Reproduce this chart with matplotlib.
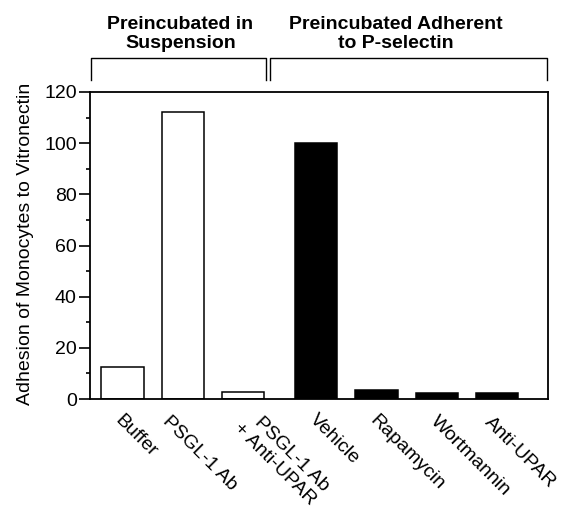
import matplotlib
matplotlib.use("Agg")
import matplotlib.pyplot as plt
import matplotlib.transforms as mtrans
from matplotlib.ticker import MultipleLocator

categories = ["Buffer", "PSGL-1 Ab", "PSGL-1 Ab\n+ Anti-UPAR", "Vehicle",
              "Rapamycin", "Wortmannin", "Anti-UPAR"]
values = [12.5, 112, 2.8, 100, 3.4, 2.3, 2.3]
colors = ["white", "white", "white", "black", "black", "black", "black"]
positions = [0, 1, 2, 3.22, 4.22, 5.22, 6.22]
group_labels = ["Preincubated in\nSuspension", "Preincubated Adherent\nto P-selectin"]

# per-label placement offsets (pixels) for the rotated category labels
label_dx = [1.0, -11.4, 12.3, 2.1, 1.6, 2.6, -3.4]
label_dy = [12.4, 13.4, 7.6, 11.4, 13.4, 13.4, 14.9]

plt.rcParams['font.family'] = ['Liberation Sans', 'DejaVu Sans']

DPI = 100
fig = plt.figure(figsize=(5.64, 5.08), dpi=DPI)
ax = fig.add_axes([90/564, 109/508, 458/564, 307/508])

ax.bar(positions, values, width=0.7, color=colors, edgecolor="black", linewidth=1.1)

ax.set_xlim(-0.54, 7.07)
ax.set_ylim(0, 120)
ax.yaxis.set_major_locator(MultipleLocator(20))
ax.yaxis.set_minor_locator(MultipleLocator(10))
ax.tick_params(axis='y', which='major', direction='out', length=8, width=1.2,
               labelsize=14, pad=1.5)
ax.tick_params(axis='y', which='minor', direction='out', length=3, width=1.2)
ax.set_xticks([])
for s in ax.spines.values():
    s.set_linewidth(1.3)

blend = mtrans.blended_transform_factory(ax.transData, ax.transAxes)
for pos, lab, dx, dy in zip(positions, categories, label_dx, label_dy):
    off = mtrans.ScaledTranslation(dx/DPI, -dy/DPI, fig.dpi_scale_trans)
    ax.text(pos, 0, lab, transform=blend + off, rotation=-45, ha='left', va='top',
            rotation_mode='anchor', fontsize=14, multialignment='right',
            linespacing=1.1, clip_on=False)

ax.set_ylabel("Adhesion of Monocytes to Vitronectin", fontsize=14)
ax.yaxis.set_label_coords((34-90)/458, (399-243.5)/307)

def px(x, y):
    return (x/564, (508 - y)/508)

ytop, ybot = 58, 80
for (x0, x1) in [(91, 266), (270, 547)]:
    p = [px(x0, ybot), px(x0, ytop), px(x1, ytop), px(x1, ybot)]
    fig.add_artist(plt.Line2D([q[0] for q in p], [q[1] for q in p], color="black",
                              linewidth=1.0, transform=fig.transFigure))

fig.text(*px(180.5, 33.7), group_labels[0], ha='center', va='center', fontsize=14,
         fontweight='bold', linespacing=1.15)
fig.text(*px(396, 33.7), group_labels[1], ha='center', va='center', fontsize=14,
         fontweight='bold', linespacing=1.15)

fig.savefig("out.png", dpi=DPI)
